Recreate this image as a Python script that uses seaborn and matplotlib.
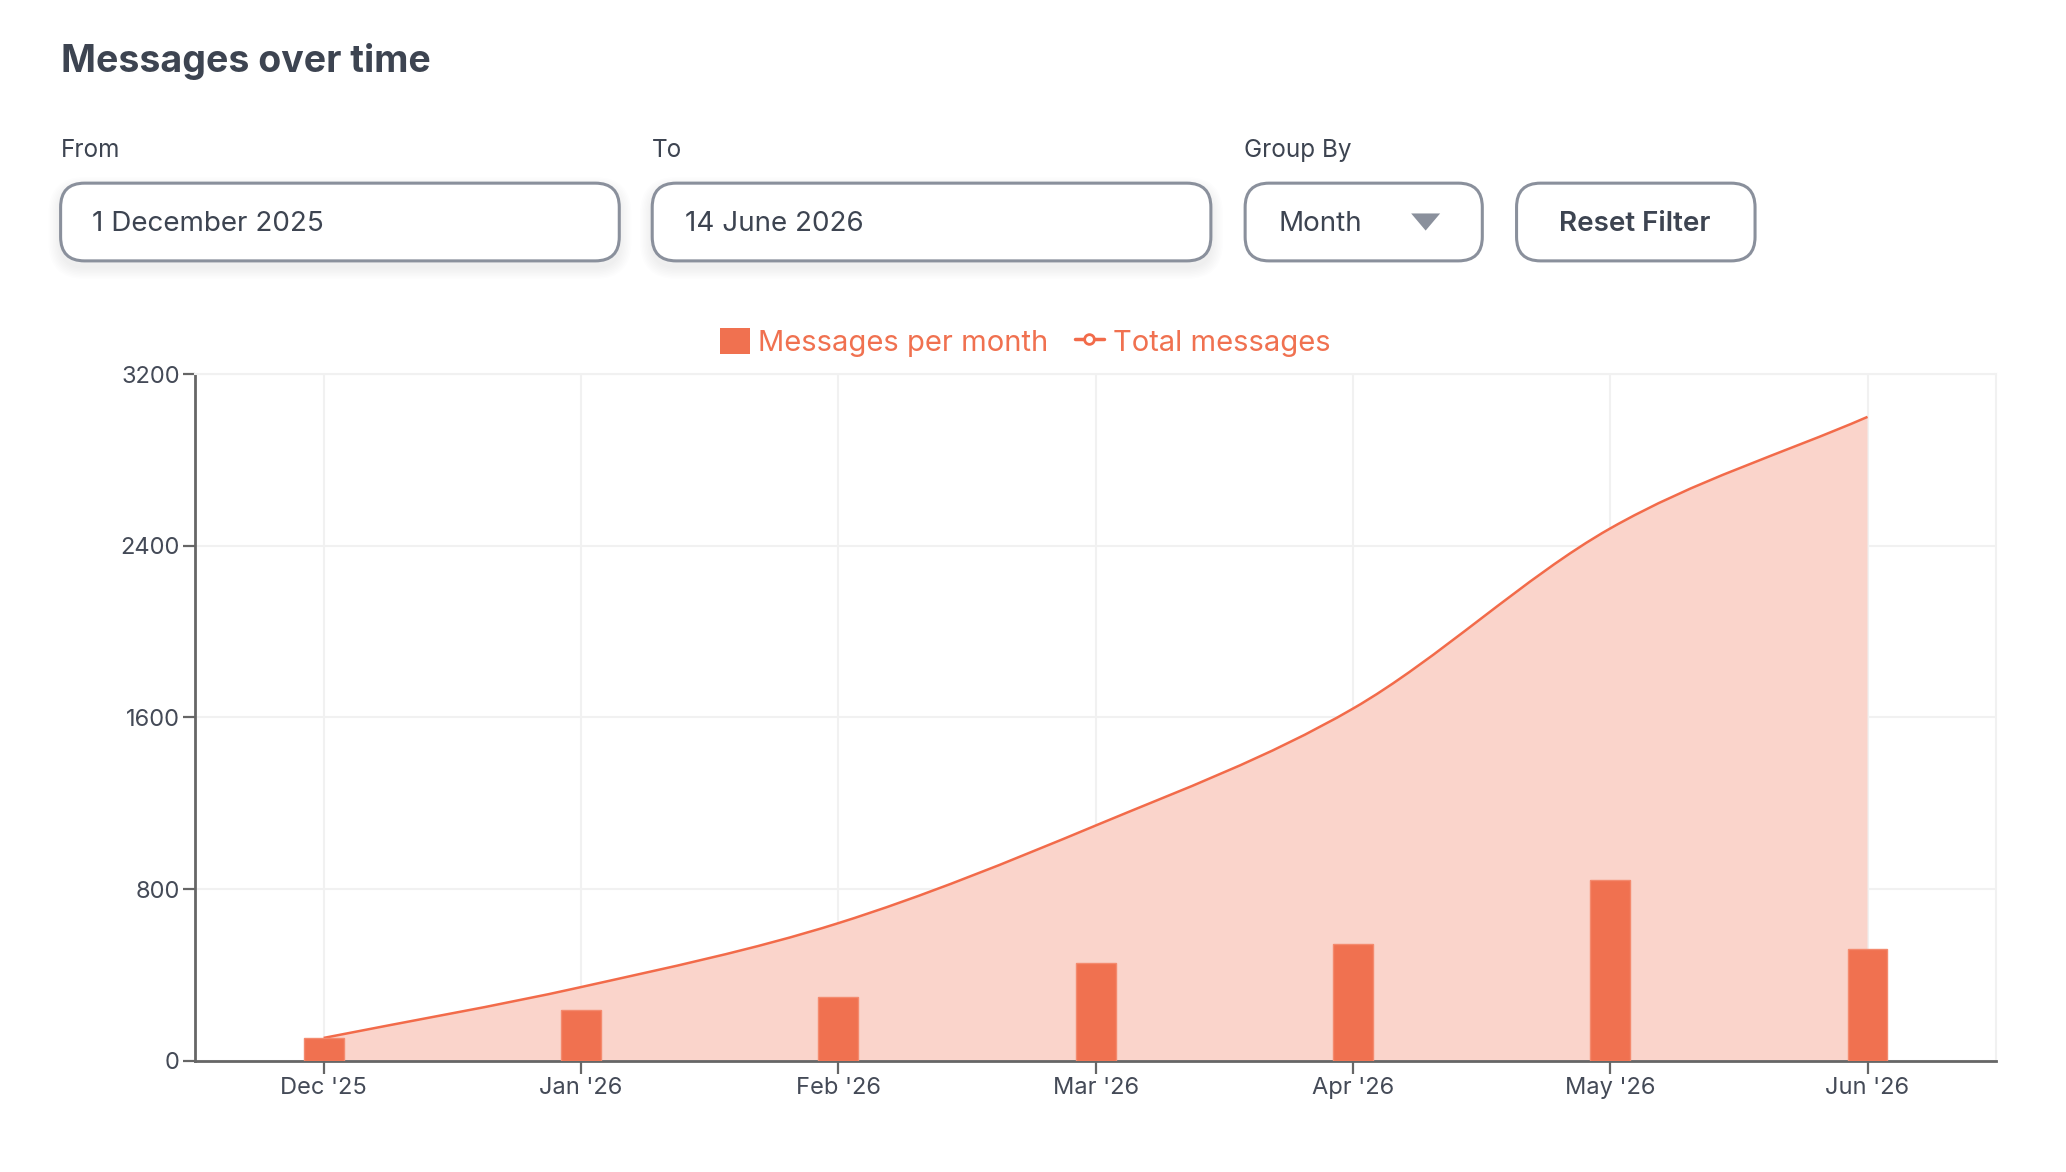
import numpy as np
import pandas as pd
import matplotlib
matplotlib.use("Agg")
import matplotlib.pyplot as plt
from matplotlib.patches import FancyBboxPatch, Patch, Polygon, PathPatch
from matplotlib.path import Path
from matplotlib.lines import Line2D
import seaborn as sns

# ── Data ───────────────────────────────────────────────────────────────────────
months = ["Dec '25", "Jan '26", "Feb '26", "Mar '26", "Apr '26", "May '26", "Jun '26"]
per_month = [106, 237, 298, 455, 545, 840, 520]
total = list(np.cumsum(per_month))
y_ticks = [0, 800, 1600, 2400, 3200]

# ── Style ──────────────────────────────────────────────────────────────────────
sns.set_theme(style="white")
plt.rcParams["font.family"] = ["Inter", "DejaVu Sans"]

BAR = "#f07150"
LINE = "#f26b4a"
FILL = "#fad4cb"
DARK = "#3d4451"
BORDER = "#8a909c"
GRID = "#f1f1f1"

W, H = 2066, 1172
S = W / 1568  # layout measured on a 1568-wide view

fig = plt.figure(figsize=(W / 100, H / 100), dpi=100)
fig.patch.set_facecolor("white")

# ── UI header (filters) ────────────────────────────────────────────────────────
ui = fig.add_axes([0, 0, 1, 1])
ui.set_xlim(0, W)
ui.set_ylim(H, 0)
ui.axis("off")

ui.text(46 * S, 47 * S, "Messages over time", fontsize=27, fontweight="bold",
        color=DARK, va="center", ha="left")

for lx, label in [(46, "From"), (495, "To"), (944, "Group By")]:
    ui.text(lx * S, 114 * S, label, fontsize=17.5, color=DARK, va="center", ha="left")

boxes = [(46, 424, True), (495, 424, True), (945, 180, False), (1151, 181, False)]
for bx, bw, shadow in boxes:
    x0, y0, w, h = bx * S, 139 * S, bw * S, 59 * S
    if shadow:
        for k in range(8):
            grow = 3 + k * 3
            ui.add_patch(FancyBboxPatch(
                (x0 - grow / 2, y0 + 6 - grow / 2), w + grow, h + grow,
                boxstyle=f"round,pad=0,rounding_size={24 + grow / 2}",
                facecolor="#6b7280", edgecolor="none", alpha=0.012, zorder=1))
    ui.add_patch(FancyBboxPatch(
        (x0, y0), w, h, boxstyle="round,pad=0,rounding_size=24",
        facecolor="white", edgecolor=BORDER, linewidth=2.2, zorder=2))

ui.text(70 * S, 170 * S, "1 December 2025", fontsize=20, color=DARK,
        va="center", ha="left", zorder=3)
ui.text(520 * S, 170 * S, "14 June 2026", fontsize=20, color=DARK,
        va="center", ha="left", zorder=3)
ui.text(970 * S, 170 * S, "Month", fontsize=20, color=DARK,
        va="center", ha="left", zorder=3)
tri_cx, tri_cy = 1082 * S, 168 * S
ui.add_patch(Polygon([(tri_cx - 11 * S, tri_cy - 6 * S), (tri_cx + 11 * S, tri_cy - 6 * S),
                      (tri_cx, tri_cy + 7 * S)], closed=True,
                     facecolor=BORDER, edgecolor="none", zorder=3))
ui.text(1241 * S, 170 * S, "Reset Filter", fontsize=20, fontweight="semibold",
        color=DARK, va="center", ha="center", zorder=3)

# ── Chart ──────────────────────────────────────────────────────────────────────
df = pd.DataFrame({"month": months, "per_month": per_month, "total": total})
df["idx"] = np.arange(len(df))

ax_l, ax_r, ax_t, ax_b = 148 * S, 1515 * S, 284 * S, 805 * S
ax = fig.add_axes([ax_l / W, 1 - ax_b / H, (ax_r - ax_l) / W, (ax_b - ax_t) / H])
ax.set_facecolor("none")


def monotone_path(xs, ys):
    """Cubic Bezier path through the points with monotone tangents."""
    xs = np.asarray(xs, float)
    ys = np.asarray(ys, float)
    d = np.diff(ys) / np.diff(xs)
    m = np.empty_like(ys)
    m[0], m[-1] = d[0], d[-1]
    for k in range(1, len(ys) - 1):
        m[k] = 0 if d[k - 1] * d[k] <= 0 else (d[k - 1] + d[k]) / 2
    verts = [(xs[0], ys[0])]
    codes = [Path.MOVETO]
    for k in range(len(xs) - 1):
        h = xs[k + 1] - xs[k]
        verts += [(xs[k] + h / 3, ys[k] + m[k] * h / 3),
                  (xs[k + 1] - h / 3, ys[k + 1] - m[k + 1] * h / 3),
                  (xs[k + 1], ys[k + 1])]
        codes += [Path.CURVE4] * 3
    return verts, codes


verts, codes = monotone_path(df["idx"], df["total"])
fill_verts = verts + [(df["idx"].iloc[-1], 0), (df["idx"].iloc[0], 0), verts[0]]
fill_codes = codes + [Path.LINETO, Path.LINETO, Path.CLOSEPOLY]
ax.add_patch(PathPatch(Path(fill_verts, fill_codes), facecolor=FILL,
                       edgecolor="none", zorder=1))
ax.add_patch(PathPatch(Path(verts, codes), facecolor="none", edgecolor=LINE,
                       linewidth=1.8, zorder=2))

sns.barplot(data=df, x="month", y="per_month", color=BAR, width=0.155,
            saturation=1, edgecolor="#f48a6e", linewidth=1, ax=ax, zorder=3)

ax.set_xlim(-0.5, 6.5)
ax.set_ylim(0, 3200)
ax.set_yticks(y_ticks)
ax.set_yticklabels([str(v) for v in y_ticks])
ax.set_xticks(df["idx"])
ax.set_xticklabels(months)
ax.set_xlabel("")
ax.set_ylabel("")

ax.grid(True, color=GRID, linewidth=1.5, zorder=0)
ax.set_axisbelow(True)
for side in ["top", "right"]:
    ax.spines[side].set_visible(True)
    ax.spines[side].set_color(GRID)
    ax.spines[side].set_linewidth(1.5)
for side in ["left", "bottom"]:
    ax.spines[side].set_color("#666666")
    ax.spines[side].set_linewidth(2)
ax.tick_params(axis="both", direction="out", length=9, width=1.6, color="#666666",
               labelsize=17, labelcolor="#444a57", left=True, bottom=True)
ax.tick_params(axis="x", pad=3)
ax.tick_params(axis="y", pad=2)

handles = [
    Patch(facecolor=BAR, edgecolor="none", label="Messages per month"),
    Line2D([0], [0], color=LINE, linewidth=2.5, marker="o", markersize=7,
           markerfacecolor="white", markeredgecolor=LINE, markeredgewidth=2,
           label="Total messages"),
]
ax.legend(handles=handles, loc="lower center", bbox_to_anchor=(0.461, 1.0),
          ncol=2, frameon=False, fontsize=21, labelcolor=BAR,
          handlelength=1.0, handleheight=1.0, handletextpad=0.3,
          columnspacing=0.9, borderaxespad=0.2)

fig.savefig("out.png", dpi=100, facecolor="white")
plt.close(fig)
print("[Saved] out.png")
